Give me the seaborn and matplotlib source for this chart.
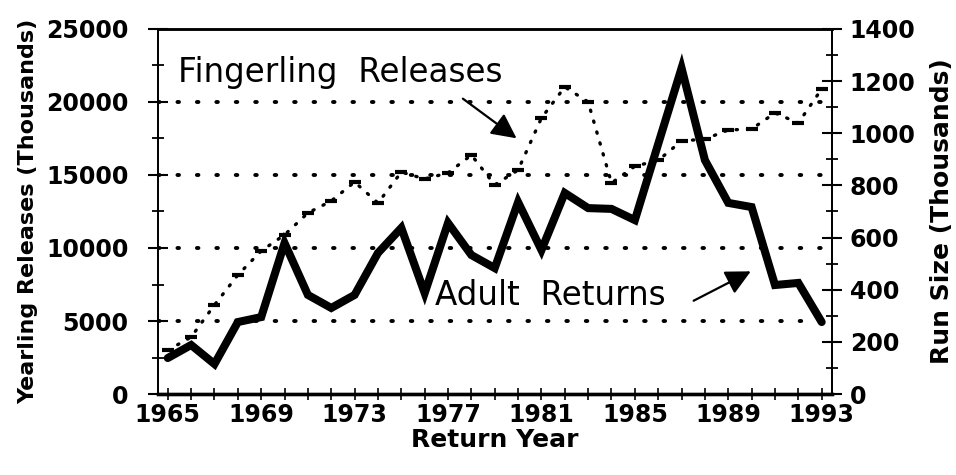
import numpy as np
import pandas as pd
import seaborn as sns
import matplotlib.pyplot as plt
import matplotlib.transforms as mtransforms
from matplotlib.ticker import MultipleLocator

# --- dane ---
lata = list(range(1965, 1994))
fingerling = [3000, 3900, 6100, 8150, 9800, 10900, 12400, 13220, 14520, 13080,
              15200, 14730, 15140, 16370, 14320, 15340, 18900, 21030, 20000, 14450,
              15600, 16000, 17330, 17460, 18080, 18150, 19250, 18560, 20890]
adult_returns = [138, 188, 115, 276, 295, 579, 380, 330, 380, 541,
                 637, 387, 656, 533, 483, 736, 552, 771, 713, 710,
                 667, 959, 1250, 897, 733, 717, 418, 426, 276]
etykiety_x = [1965, 1969, 1973, 1977, 1981, 1985, 1989, 1993]

df = pd.DataFrame({'Rok': lata, 'Fingerling': fingerling, 'Adult': adult_returns})

sns.set_style("ticks")
plt.rcParams['font.family'] = ['DejaVu Sans']
for k in ['text.color', 'axes.labelcolor', 'xtick.color', 'ytick.color', 'axes.edgecolor']:
    plt.rcParams[k] = 'black'

fig = plt.figure(figsize=(9.56, 4.75), dpi=100)
ax = fig.add_axes([0.165, 0.1705, 0.705, 0.7685])
ax2 = ax.twinx()

# linie siatki (kropkowane)
for g in [5000, 10000, 15000, 20000]:
    ax.axhline(g, color='black', lw=2.8, linestyle=(0, (0.4, 4.6)),
               dash_capstyle='round', zorder=1)

# Fingerling Releases - linia kropkowana z kreskami w latach
sns.lineplot(data=df, x='Rok', y='Fingerling', ax=ax, color='black', lw=2.4,
             linestyle=(0, (0.4, 3.0)), marker='_', markersize=9,
             markeredgewidth=3.0, markeredgecolor='black', zorder=3)
ax.lines[-1].set_dash_capstyle('round')

# Adult Returns - gruba linia
sns.lineplot(data=df, x='Rok', y='Adult', ax=ax2, color='black', lw=5.8,
             solid_joinstyle='miter', zorder=4)

ax.set_xlim(1964.57, 1993.43)
ax.set_ylim(0, 25000)
ax2.set_ylim(0, 1400)

ax.xaxis.set_major_locator(plt.FixedLocator(etykiety_x))
ax.xaxis.set_minor_locator(MultipleLocator(1))
ax.yaxis.set_major_locator(MultipleLocator(5000))
ax.yaxis.set_minor_locator(MultipleLocator(2500))
ax2.yaxis.set_major_locator(MultipleLocator(200))
ax2.yaxis.set_minor_locator(MultipleLocator(100))

fs_tick = 17
ax.tick_params(axis='x', which='major', direction='inout', length=9, width=1.2,
               labelsize=fs_tick, pad=2)
ax.tick_params(axis='x', which='minor', direction='inout', length=9, width=1.2)
ax.tick_params(axis='y', which='major', direction='inout', length=14, width=1.5,
               labelsize=fs_tick, pad=14)
ax.tick_params(axis='y', which='minor', direction='inout', length=9, width=1.3)
ax2.tick_params(axis='y', which='major', direction='inout', length=14, width=1.5,
                labelsize=fs_tick, pad=6)
ax2.tick_params(axis='y', which='minor', direction='inout', length=9, width=1.3)

for lab in ax.get_xticklabels() + ax.get_yticklabels() + ax2.get_yticklabels():
    lab.set_fontweight('bold')

# etykiety "0" lekko w gore, jak na oryginale
fig.canvas.draw()
przesun = mtransforms.ScaledTranslation(0, 9 / 72, fig.dpi_scale_trans)
for lab in (ax.get_yticklabels()[0], ax2.get_yticklabels()[0]):
    lab.set_transform(lab.get_transform() + przesun)

for a in (ax, ax2):
    for s in a.spines.values():
        s.set_visible(True)
        s.set_linewidth(1.3)
    a.spines['bottom'].set_linewidth(2.4)
    a.spines['top'].set_linewidth(1.8)

ax.set_xlabel('Return Year', fontsize=18, fontweight='bold', labelpad=1)
ax.set_ylabel('Yearling Releases (Thousands)', fontsize=16, fontweight='bold', labelpad=6)
ax2.set_ylabel('Run Size (Thousands)', fontsize=18, fontweight='bold', labelpad=10)

# opisy serii ze strzalkami
ax.text(1965.43, 22050, 'Fingerling  Releases', fontsize=23.5, ha='left', va='center', zorder=6)
ax.annotate('', xy=(1980.03, 17400), xytext=(1977.54, 20340),
            arrowprops=dict(arrowstyle='-|>', color='black', lw=1.6, mutation_scale=38),
            zorder=6)
ax.text(1976.46, 6780, 'Adult  Returns', fontsize=23.5, ha='left', va='center', zorder=6)
ax.annotate('', xy=(1990.07, 8490), xytext=(1987.41, 6300),
            arrowprops=dict(arrowstyle='-|>', color='black', lw=1.6, mutation_scale=38),
            zorder=6)

fig.savefig('out.png', dpi=100)
